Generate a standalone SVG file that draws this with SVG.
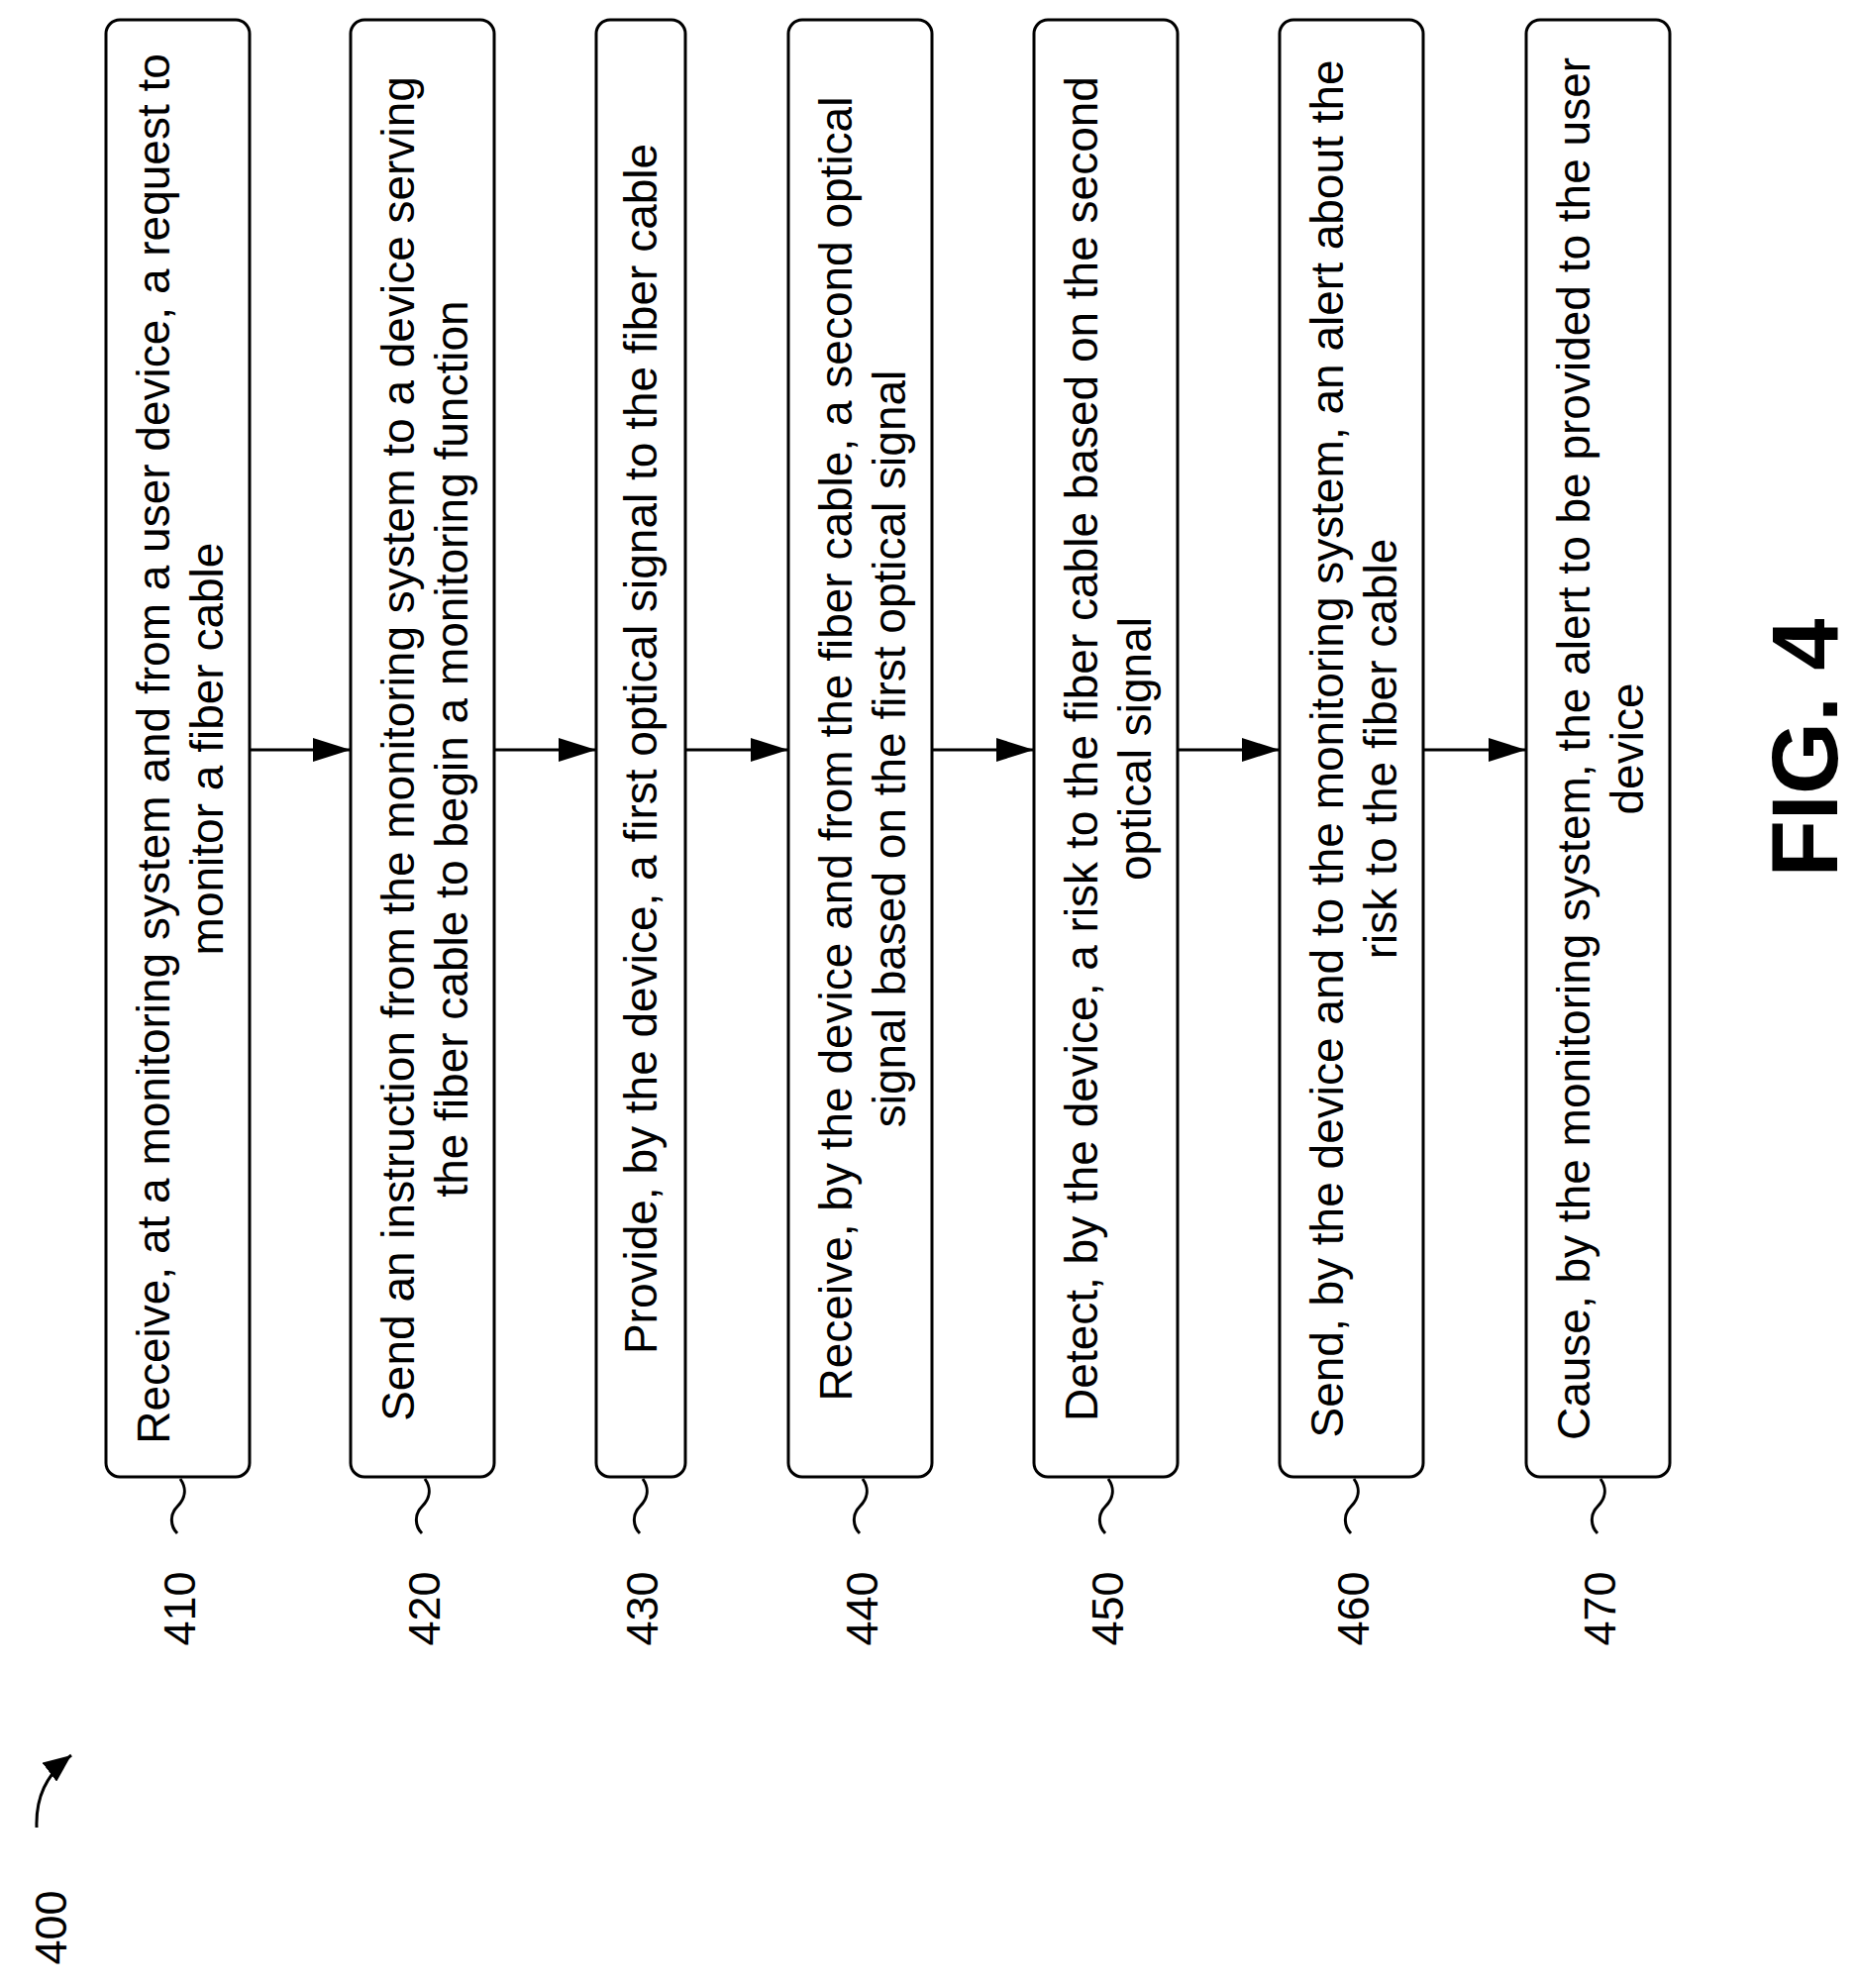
<svg xmlns="http://www.w3.org/2000/svg" width="1875" height="2007" viewBox="0 0 1875 2007">
<style>
.box{fill:#fff;stroke:#000;stroke-width:3}
.t{font-family:"Liberation Sans",Arial,sans-serif;font-size:46px;text-anchor:middle}
.n{font-family:"Liberation Sans",Arial,sans-serif;font-size:45px;text-anchor:middle}
.c{fill:none;stroke:#000;stroke-width:3}
</style>
<defs>
<marker id="ah" markerWidth="40" markerHeight="24" refX="38" refY="12" orient="auto" markerUnits="userSpaceOnUse">
<path d="M0,0 L38,12 L0,24 Z" fill="#000"/>
</marker>
<marker id="ah2" markerWidth="30" markerHeight="24" refX="28" refY="12" orient="auto" markerUnits="userSpaceOnUse">
<path d="M0,0 L28,12 L0,24 Z" fill="#000"/>
</marker>
</defs>
<g id="n410">
<rect class="box" x="107" y="20" width="145" height="1471" rx="14"/>
<text class="t" transform="translate(171,756) rotate(-90)">Receive, at a monitoring system and from a user device, a request to</text>
<text class="t" transform="translate(225,756) rotate(-90)">monitor a fiber cable</text>
<path class="c" d="M182 1493 c7 10 5 20 -3 28 c-8 8 -7 20 0 27"/>
<text class="n" transform="translate(197,1624) rotate(-90)">410</text>
</g>
<g id="n420">
<rect class="box" x="354" y="20" width="145" height="1471" rx="14"/>
<text class="t" transform="translate(418,756) rotate(-90)">Send an instruction from the monitoring system to a device serving</text>
<text class="t" transform="translate(472,756) rotate(-90)">the fiber cable to begin a monitoring function</text>
<path class="c" d="M429 1493 c7 10 5 20 -3 28 c-8 8 -7 20 0 27"/>
<text class="n" transform="translate(444,1624) rotate(-90)">420</text>
</g>
<g id="n430">
<rect class="box" x="602" y="20" width="90" height="1471" rx="14"/>
<text class="t" transform="translate(663,756) rotate(-90)">Provide, by the device, a first optical signal to the fiber cable</text>
<path class="c" d="M649 1493 c7 10 5 20 -3 28 c-8 8 -7 20 0 27"/>
<text class="n" transform="translate(664,1624) rotate(-90)">430</text>
</g>
<g id="n440">
<rect class="box" x="796" y="20" width="145" height="1471" rx="14"/>
<text class="t" transform="translate(860,756) rotate(-90)">Receive, by the device and from the fiber cable, a second optical</text>
<text class="t" transform="translate(914,756) rotate(-90)">signal based on the first optical signal</text>
<path class="c" d="M871 1493 c7 10 5 20 -3 28 c-8 8 -7 20 0 27"/>
<text class="n" transform="translate(886,1624) rotate(-90)">440</text>
</g>
<g id="n450">
<rect class="box" x="1044" y="20" width="145" height="1471" rx="14"/>
<text class="t" transform="translate(1108,756) rotate(-90)">Detect, by the device, a risk to the fiber cable based on the second</text>
<text class="t" transform="translate(1162,756) rotate(-90)">optical signal</text>
<path class="c" d="M1119 1493 c7 10 5 20 -3 28 c-8 8 -7 20 0 27"/>
<text class="n" transform="translate(1134,1624) rotate(-90)">450</text>
</g>
<g id="n460">
<rect class="box" x="1292" y="20" width="145" height="1471" rx="14"/>
<text class="t" transform="translate(1356,756) rotate(-90)">Send, by the device and to the monitoring system, an alert about the</text>
<text class="t" transform="translate(1410,756) rotate(-90)">risk to the fiber cable</text>
<path class="c" d="M1367 1493 c7 10 5 20 -3 28 c-8 8 -7 20 0 27"/>
<text class="n" transform="translate(1382,1624) rotate(-90)">460</text>
</g>
<g id="n470">
<rect class="box" x="1541" y="20" width="145" height="1471" rx="14"/>
<text class="t" transform="translate(1605,756) rotate(-90)">Cause, by the monitoring system, the alert to be provided to the user</text>
<text class="t" transform="translate(1659,756) rotate(-90)">device</text>
<path class="c" d="M1616 1493 c7 10 5 20 -3 28 c-8 8 -7 20 0 27"/>
<text class="n" transform="translate(1631,1624) rotate(-90)">470</text>
</g>
<g id="connectors">
<line class="c" x1="252" y1="757" x2="354" y2="757" marker-end="url(#ah)"/>
<line class="c" x1="499" y1="757" x2="602" y2="757" marker-end="url(#ah)"/>
<line class="c" x1="692" y1="757" x2="796" y2="757" marker-end="url(#ah)"/>
<line class="c" x1="941" y1="757" x2="1044" y2="757" marker-end="url(#ah)"/>
<line class="c" x1="1189" y1="757" x2="1292" y2="757" marker-end="url(#ah)"/>
<line class="c" x1="1437" y1="757" x2="1541" y2="757" marker-end="url(#ah)"/>
<path class="c" d="M37 1845 C36 1815 46 1792 72 1772" marker-end="url(#ah2)"/>
</g>
<g id="labels">
<text class="n" transform="translate(67,1946) rotate(-90)">400</text>
<text transform="translate(1855,755) rotate(-90)" style="font-family:'Liberation Sans',Arial,sans-serif;font-size:94px;font-weight:bold;text-anchor:middle">FIG. 4</text>
</g>
</svg>
